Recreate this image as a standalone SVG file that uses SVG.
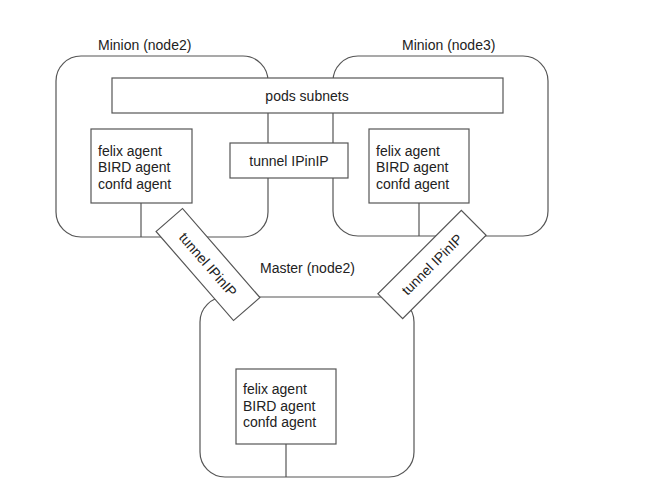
<svg xmlns="http://www.w3.org/2000/svg" width="661" height="504" viewBox="0 0 661 504">
<style>
.frame{fill:#fff;stroke:#555;stroke-width:1.2}
.box{fill:#fff;stroke:#555;stroke-width:1.2}
.link{stroke:#555;stroke-width:1.2;fill:none}
text{font-family:"Liberation Sans",Arial,sans-serif;font-size:14px;fill:#222}
.c{text-anchor:middle}
</style>
<rect width="661" height="504" fill="#fff"/>
<g id="minion-node2">
<rect class="frame" x="56" y="56" width="212" height="181" rx="25"/>
<text x="98" y="50">Minion (node2)</text>
</g>
<g id="minion-node3">
<rect class="frame" x="333" y="56" width="215" height="180" rx="25"/>
<text x="402" y="50">Minion (node3)</text>
</g>
<g id="master">
<rect class="frame" x="200" y="297" width="214" height="180" rx="25"/>
<text x="260" y="273">Master (node2)</text>
</g>
<g id="connectors">
<line class="link" x1="141" y1="203" x2="141" y2="237"/>
<line class="link" x1="419" y1="203" x2="419" y2="236"/>
<line class="link" x1="286" y1="444" x2="286" y2="477"/>
</g>
<g id="pods-subnets">
<rect class="box" x="112" y="78" width="391" height="35"/>
<text class="c" x="307" y="101">pods subnets</text>
</g>
<g id="tunnel-top">
<rect class="box" x="230" y="143" width="118" height="35"/>
<text class="c" x="289" y="166">tunnel IPinIP</text>
</g>
<g id="agents-node2">
<rect class="box" x="91" y="129" width="101" height="74"/>
<text x="98" y="155.5">felix agent</text>
<text x="98" y="172">BIRD agent</text>
<text x="98" y="188.5">confd agent</text>
</g>
<g id="agents-node3">
<rect class="box" x="369" y="129" width="100" height="74"/>
<text x="376" y="155.5">felix agent</text>
<text x="376" y="172">BIRD agent</text>
<text x="376" y="188.5">confd agent</text>
</g>
<g id="agents-master">
<rect class="box" x="236" y="369" width="100" height="75"/>
<text x="243" y="394">felix agent</text>
<text x="243" y="410.5">BIRD agent</text>
<text x="243" y="427">confd agent</text>
</g>
<g id="tunnel-left" transform="translate(208,264.5) rotate(49)">
<rect class="box" x="-59" y="-17.5" width="118" height="35"/>
<text class="c" x="0" y="5">tunnel IPinIP</text>
</g>
<g id="tunnel-right" transform="translate(432,264.5) rotate(-45)">
<rect class="box" x="-59" y="-17.5" width="118" height="35"/>
<text class="c" x="0" y="5">tunnel IPinIP</text>
</g>
</svg>
